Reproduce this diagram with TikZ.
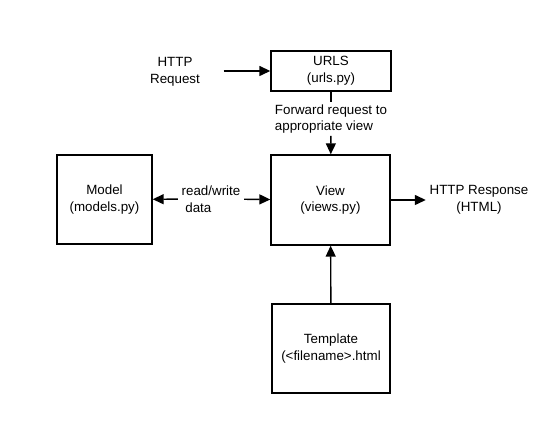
\documentclass[tikz,border=0pt]{standalone}
\usepackage{fontspec}
\setmainfont{Liberation Sans}
\usepackage{tikz}
\usetikzlibrary{arrows.meta,positioning}
\tikzset{
  box/.style={draw, line width=0.8pt, align=center, inner sep=0pt, font=\fontsize{7.6}{9.6}\selectfont},
  lbl/.style={align=center, inner sep=2pt, font=\fontsize{7.6}{9.6}\selectfont},
  arrow/.style={-{Triangle[length=2.2mm,width=2mm]}, line width=0.8pt}
}

\begin{document}
\begin{tikzpicture}[x=0.02cm,y=-0.02cm]
        \useasboundingbox (0,0) rectangle (537,421);
        \node[box, minimum width=2.4cm, minimum height=0.8cm] (urls) at (331,71) {URLS\\(urls.py)};
        \node[box, minimum width=2.38cm, minimum height=1.8cm] (view) at (330.5,200) {View\\(views.py)};
        \node[box, minimum width=1.9cm, minimum height=1.78cm] (model) at (104.5,199.5) {Model\\(models.py)};
        \node[box, minimum width=2.36cm, minimum height=1.78cm] (tmpl) at (331,348.5) {Template\\(<filename>.html};
        \node[lbl] (req) at (175,72) {HTTP\\Request};
        \node[lbl, align=left, inner sep=1pt] (fwd) at (331,119) {Forward request to\\appropriate view};
        \node[lbl, align=left] (rw) at (211,199) {read/write\\\ data};
        \node[lbl] (resp) at (479,200) {HTTP Response\\(HTML)};
        \draw[arrow, shorten <=0.4cm] (req.east |- urls.west) -- (urls.west);
        \draw[line width=0.8pt] (urls) -- (fwd);
        \draw[arrow] (fwd) -- (view);
        \draw[arrow] (rw) -- (model);
        \draw[arrow] (rw) -- (view);
        \draw[arrow] (view) -- (resp);
        \draw[arrow] (tmpl) -- (view);
      \end{tikzpicture}
\end{document}
